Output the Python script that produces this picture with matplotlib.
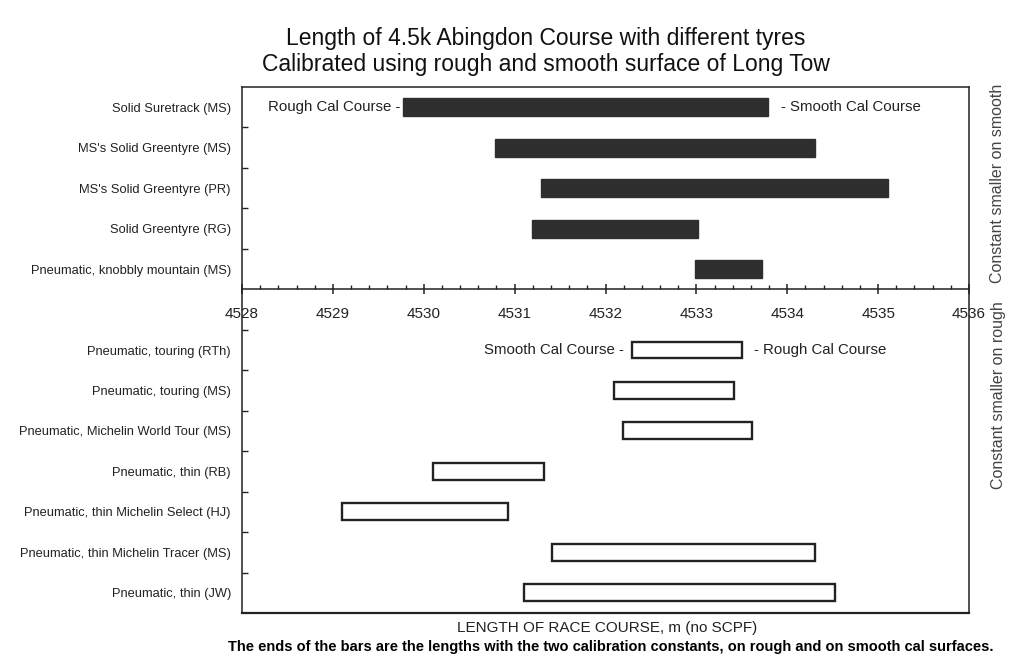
import numpy as np
import matplotlib.pyplot as plt
from matplotlib.ticker import MultipleLocator

plt.rcParams['font.family'] = ['Liberation Sans', 'DejaVu Sans']

# top group: constant smaller on smooth (filled bars)
top_names = ['Solid Suretrack (MS)', "MS's Solid Greentyre (MS)", "MS's Solid Greentyre (PR)",
             'Solid Greentyre (RG)', 'Pneumatic, knobbly mountain (MS)']
top_rough = [4529.77, 4530.78, 4531.29, 4531.19, 4532.98]
top_smooth = [4533.79, 4534.30, 4535.11, 4533.02, 4533.72]

# bottom group: constant smaller on rough (hollow bars)
bot_names = ['Pneumatic, touring (RTh)', 'Pneumatic, touring (MS)',
             'Pneumatic, Michelin World Tour (MS)', 'Pneumatic, thin (RB)',
             'Pneumatic, thin Michelin Select (HJ)', 'Pneumatic, thin Michelin Tracer (MS)',
             'Pneumatic, thin (JW)']
bot_smooth = [4532.29, 4532.09, 4532.19, 4530.10, 4529.10, 4531.41, 4531.10]
bot_rough = [4533.50, 4533.41, 4533.61, 4531.32, 4530.93, 4534.31, 4534.52]

xmin, xmax = 4528, 4536
ink = '#222222'

fig = plt.figure(figsize=(10.09, 6.6), dpi=100)
ax = fig.add_axes([242 / 1009, 1 - 613 / 660, 727 / 1009, 526 / 660])

y_top = np.arange(len(top_names)) + 0.5
y_bot = np.arange(len(bot_names)) + 6.5

l_top = np.array(top_rough)
ax.barh(y_top, np.array(top_smooth) - l_top, left=l_top, height=0.45,
        color='#2e2e2e', edgecolor='#2e2e2e')
l_bot = np.array(bot_smooth)
ax.barh(y_bot, np.array(bot_rough) - l_bot, left=l_bot, height=0.42,
        color='white', edgecolor='#222222', linewidth=1.7)

fs_ann = 10.8
ax.annotate('Rough Cal Course -', xy=(top_rough[0], y_top[0]), xytext=(-2, 0),
            textcoords='offset points', ha='right', va='center', fontsize=fs_ann, color=ink)
ax.annotate('- Smooth Cal Course', xy=(top_smooth[0], y_top[0]), xytext=(9, 0),
            textcoords='offset points', ha='left', va='center', fontsize=fs_ann, color=ink)
ax.annotate('Smooth Cal Course -', xy=(bot_smooth[0], y_bot[0]), xytext=(-6, 0),
            textcoords='offset points', ha='right', va='center', fontsize=fs_ann, color=ink)
ax.annotate('- Rough Cal Course', xy=(bot_rough[0], y_bot[0]), xytext=(9, 0),
            textcoords='offset points', ha='left', va='center', fontsize=fs_ann, color=ink)

ax.set_xlim(xmin, xmax)
ax.set_ylim(13, 0)

# x axis drawn through the middle of the frame
ax.spines['bottom'].set_position(('data', 5))
for s in ax.spines.values():
    s.set_color(ink)
    s.set_linewidth(1.1)
ax.axhline(13, color=ink, lw=1.6, clip_on=False)

ax.xaxis.set_major_locator(MultipleLocator(1))
ax.xaxis.set_minor_locator(MultipleLocator(0.2))
ax.tick_params(axis='x', which='major', direction='inout', length=7, width=1.1,
               colors=ink, labelsize=11, pad=9)
ax.tick_params(axis='x', which='minor', direction='in', length=3, width=1, colors=ink)

ax.set_yticks([1, 2, 3, 4, 6, 7, 8, 9, 10, 11, 12])
ax.set_yticklabels([])
ax.set_yticks(np.concatenate([y_top, y_bot]), minor=True)
ax.set_yticklabels(top_names + bot_names, minor=True)
ax.tick_params(axis='y', which='major', direction='in', length=4, width=1, colors=ink)
ax.tick_params(axis='y', which='minor', length=0, pad=8, labelsize=9.3, labelcolor=ink)

fig.text(998 / 1009, 1 - 183 / 660, 'Constant smaller on smooth', rotation=90,
         ha='center', va='center', fontsize=11.5, color='#444444')
fig.text(998 / 1009, 1 - 395 / 660, 'Constant smaller on rough', rotation=90,
         ha='center', va='center', fontsize=11.5, color='#444444')

fig.text(546 / 1009, 1 - 39 / 660, 'Length of 4.5k Abingdon Course with different tyres',
         ha='center', va='center', fontsize=16.5, color='#111111')
fig.text(546 / 1009, 1 - 64 / 660, 'Calibrated using rough and smooth surface of Long Tow',
         ha='center', va='center', fontsize=16.5, color='#111111')
fig.text(607 / 1009, 1 - 628 / 660, 'LENGTH OF RACE COURSE, m (no SCPF)',
         ha='center', va='center', fontsize=11, color=ink)
fig.text(611 / 1009, 1 - 647 / 660,
         'The ends of the bars are the lengths with the two calibration constants, on rough and on smooth cal surfaces.',
         ha='center', va='center', fontsize=10.5, color='black', fontweight='bold')

fig.savefig('out.png', dpi=100)
